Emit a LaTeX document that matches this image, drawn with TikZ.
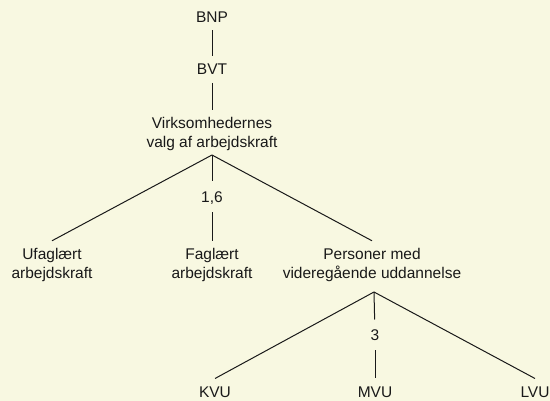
\documentclass[tikz,border=0pt]{standalone}
\usepackage{fontspec}
\setmainfont{Liberation Sans}
\definecolor{bgcream}{RGB}{248,248,225}
\definecolor{ink}{RGB}{25,25,25}
\begin{document}
\begin{tikzpicture}[x=1pt,y=-1pt,
  lbl/.style={font=\fontsize{15.5}{18.5}\selectfont, text=ink, inner xsep=0pt, inner ysep=8pt, outer sep=0pt, align=center, anchor=base},
  one/.style={lbl, text height=11pt, text depth=0pt},
  num/.style={one, inner ysep=10pt},
  conn/.style={draw=ink, line width=1pt}]
\fill[bgcream] (0,0) rectangle (550,401);
\useasboundingbox (0,0) rectangle (550,401);
\node[one] (bnp) at (212,22.3) {BNP};
\node[one] (bvt) at (212,75) {BVT};
\node[lbl] (virk) at (212,147.5) {Virksomhedernes\\valg af arbejdskraft};
\coordinate (va) at (212,155);
\node[num] (n16) at (212,202.5) {1,6};
\node[lbl] (ufag) at (52,278.5) {Ufaglært\\arbejdskraft};
\node[lbl] (fag) at (212,278.5) {Faglært\\arbejdskraft};
\node[lbl] (pers) at (372,278.5) {Personer med\\videregående uddannelse};
\coordinate (pa) at (374,292);
\node[num] (n3) at (375,340.5) {3};
\node[one] (kvu) at (215,397.5) {KVU};
\node[one] (mvu) at (375,397.5) {MVU};
\node[one] (lvu) at (535,397.5) {LVU};
\draw[conn] (bnp) -- (bvt);
\draw[conn] (bvt) -- (virk);
\draw[conn] (va) -- (ufag.north);
\draw[conn] (va) -- (n16);
\draw[conn] (n16) -- (fag);
\draw[conn] (va) -- (pers.north);
\draw[conn] (pa) -- (kvu.north);
\draw[conn] (pa) -- (n3);
\draw[conn] (n3) -- (mvu);
\draw[conn] (pa) -- (lvu.north);
\end{tikzpicture}
\end{document}
